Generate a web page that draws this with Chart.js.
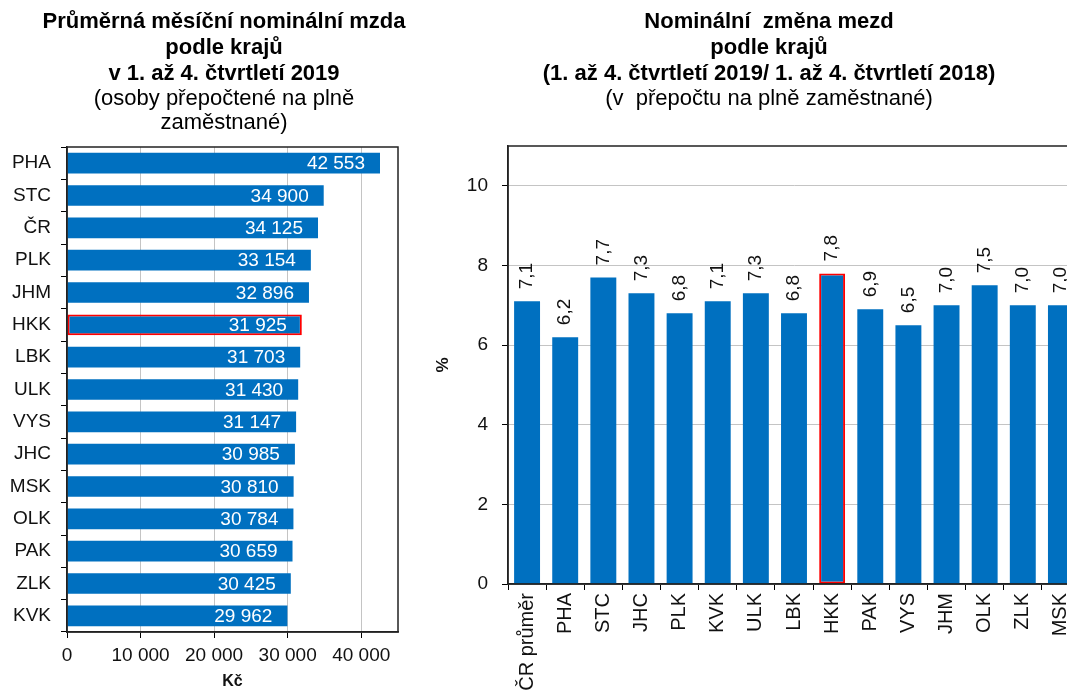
<!DOCTYPE html>
<html lang="cs">
<head>
<meta charset="utf-8">
<script src="https://cdn.jsdelivr.net/npm/chart.js@4.4.1/dist/chart.umd.min.js"></script>
<style>
  html, body { margin: 0; padding: 0; background: #fff; overflow: hidden; width: 1067px; height: 690px; }
  #left { position: absolute; left: 0; top: 0; width: 448px; height: 690px; }
  #right { position: absolute; left: 430px; top: 0; width: 678px; height: 720px; }
</style>
</head>
<body>
<div id="left"><canvas id="wageChart"></canvas></div>
<div id="right"><canvas id="changeChart"></canvas></div>
<script>
// Average monthly wage by region (Kč)
const wageRegions = ["PHA", "STC", "ČR", "PLK", "JHM", "HKK", "LBK", "ULK", "VYS", "JHC", "MSK", "OLK", "PAK", "ZLK", "KVK"];
const wageValues = [42553, 34900, 34125, 33154, 32896, 31925, 31703, 31430, 31147, 30985, 30810, 30784, 30659, 30425, 29962];
const wageTicks = [0, 10000, 20000, 30000, 40000];

// Nominal wage change by region (%)
const changeRegions = ["ČR průměr", "PHA", "STC", "JHC", "PLK", "KVK", "ULK", "LBK", "HKK", "PAK", "VYS", "JHM", "OLK", "ZLK", "MSK"];
const changeValues = [7.1, 6.2, 7.7, 7.3, 6.8, 7.1, 7.3, 6.8, 7.8, 6.9, 6.5, 7.0, 7.5, 7.0, 7.0];
const changeTicks = [0, 2, 4, 6, 8, 10];

const highlight = "HKK";
const BLUE = "#0070c0";
const RED = "#ff0000";
const AXIS = "#222";
const GRID = "#c4c4c4";

Chart.defaults.font.family = '"Liberation Sans", Arial, sans-serif';
Chart.defaults.color = "#111";

const fmtThousands = (v) => String(v).replace(/\B(?=(\d{3})+(?!\d))/g, " ");
const fmtDecimal = (v) => v.toFixed(1).replace(".", ",");

// empty axis on the right, only keeps space so the title stays centred on the whole canvas
const spacerAxis = (w) => ({
  type: "linear",
  position: "right",
  display: true,
  grid: { display: false, drawTicks: false },
  border: { display: false },
  ticks: { display: false },
  afterFit: (s) => { s.width = w; },
});

// box round the plot area
const framePlugin = {
  id: "frame",
  afterDraw(chart) {
    const { ctx, chartArea: a } = chart;
    ctx.save();
    ctx.strokeStyle = AXIS;
    ctx.lineWidth = 1.5;
    ctx.strokeRect(a.left, a.top, a.right - a.left, a.bottom - a.top);
    ctx.restore();
  },
};

// white values inside the horizontal bars
const wageLabels = {
  id: "wageLabels",
  afterDatasetsDraw(chart) {
    const ctx = chart.ctx;
    ctx.save();
    ctx.font = '19px "Liberation Sans", Arial, sans-serif';
    ctx.fillStyle = "#fff";
    ctx.textAlign = "right";
    ctx.textBaseline = "middle";
    chart.getDatasetMeta(0).data.forEach((bar, i) => {
      ctx.fillText(fmtThousands(wageValues[i]), bar.x - 15, bar.y + 1);
    });
    ctx.restore();
  },
};

// rotated values above the columns
const changeLabels = {
  id: "changeLabels",
  afterDatasetsDraw(chart) {
    const ctx = chart.ctx;
    ctx.save();
    ctx.font = '19px "Liberation Sans", Arial, sans-serif';
    ctx.fillStyle = "#111";
    ctx.textAlign = "left";
    ctx.textBaseline = "middle";
    chart.getDatasetMeta(0).data.forEach((bar, i) => {
      ctx.save();
      ctx.translate(bar.x, bar.y - 12);
      ctx.rotate(-Math.PI / 2);
      ctx.fillText(fmtDecimal(changeValues[i]), 0, 0);
      ctx.restore();
    });
    ctx.restore();
  },
};

const titleFont = { size: 22, weight: "bold", lineHeight: "26px" };
const subFont = { size: 22, weight: "normal", lineHeight: "24px" };

new Chart(document.getElementById("wageChart"), {
  type: "bar",
  data: {
    labels: wageRegions,
    datasets: [{
      data: wageValues,
      backgroundColor: BLUE,
      borderColor: wageRegions.map((r) => (r === highlight ? RED : BLUE)),
      borderWidth: wageRegions.map((r) => (r === highlight ? 2 : 0)),
      borderSkipped: false,
      categoryPercentage: 1,
      barPercentage: 0.64,
    }],
  },
  options: {
    indexAxis: "y",
    responsive: true,
    maintainAspectRatio: false,
    animation: false,
    plugins: {
      legend: { display: false },
      tooltip: { enabled: false },
      title: {
        display: true,
        text: ["Průměrná měsíční nominální mzda", "podle krajů", "v 1. až 4. čtvrtletí 2019"],
        font: titleFont,
        color: "#000",
        padding: { top: 9, bottom: 0 },
      },
      subtitle: {
        display: true,
        text: ["(osoby přepočtené na plně", "zaměstnané)"],
        font: subFont,
        color: "#000",
        padding: { top: 0, bottom: 12 },
      },
    },
    scales: {
      x: {
        min: 0,
        max: 45000,
        bounds: "data",
        afterBuildTicks: (s) => { s.ticks = wageTicks.map((v) => ({ value: v })); },
        ticks: { font: { size: 19 }, padding: 6, maxRotation: 0, callback: (v) => fmtThousands(v) },
        grid: { color: GRID, tickColor: "#000", tickLength: 6 },
        border: { color: AXIS, width: 1.5 },
        title: { display: true, text: "Kč", font: { size: 16, weight: "bold", lineHeight: 1 }, padding: 0 },
        afterFit: (s) => { s.height = 58; },
      },
      y: {
        grid: { drawOnChartArea: false, tickColor: "#000", tickLength: 6, offset: true },
        border: { color: AXIS, width: 1.5 },
        ticks: { font: { size: 19 }, padding: 10, autoSkip: false },
        afterFit: (s) => { s.width = 67; },
      },
      yPad: spacerAxis(50),
    },
  },
  plugins: [wageLabels, framePlugin],
});

new Chart(document.getElementById("changeChart"), {
  type: "bar",
  data: {
    labels: changeRegions,
    datasets: [{
      data: changeValues,
      backgroundColor: BLUE,
      borderColor: changeRegions.map((r) => (r === highlight ? RED : BLUE)),
      borderWidth: changeRegions.map((r) => (r === highlight ? 2 : 0)),
      borderSkipped: false,
      categoryPercentage: 1,
      barPercentage: 0.68,
    }],
  },
  options: {
    responsive: true,
    maintainAspectRatio: false,
    animation: false,
    plugins: {
      legend: { display: false },
      tooltip: { enabled: false },
      title: {
        display: true,
        text: ["Nominální  změna mezd", "podle krajů", "(1. až 4. čtvrtletí 2019/ 1. až 4. čtvrtletí 2018)"],
        font: titleFont,
        color: "#000",
        padding: { top: 9, bottom: 0 },
      },
      subtitle: {
        display: true,
        text: "(v  přepočtu na plně zaměstnané)",
        font: subFont,
        color: "#000",
        padding: { top: 0, bottom: 35 },
      },
    },
    scales: {
      x: {
        grid: { drawOnChartArea: false, tickColor: "#000", tickLength: 6, offset: true },
        border: { color: AXIS, width: 1.5 },
        ticks: { font: { size: 20 }, minRotation: 90, maxRotation: 90, autoSkip: false, padding: 3 },
        afterFit: (s) => { s.height = 136; },
      },
      y: {
        min: 0,
        max: 11,
        bounds: "data",
        afterBuildTicks: (s) => { s.ticks = changeTicks.map((v) => ({ value: v })); },
        ticks: { font: { size: 19 }, padding: 14 },
        grid: { color: GRID, tickColor: "#000", tickLength: 6 },
        border: { color: AXIS, width: 1.5 },
        title: { display: true, text: "%", font: { size: 17, weight: "bold" }, padding: { top: 3, bottom: 0 } },
        afterFit: (s) => { s.width = 78; },
      },
      yPad: spacerAxis(28),
    },
  },
  plugins: [changeLabels, framePlugin],
});
</script>
</body>
</html>
